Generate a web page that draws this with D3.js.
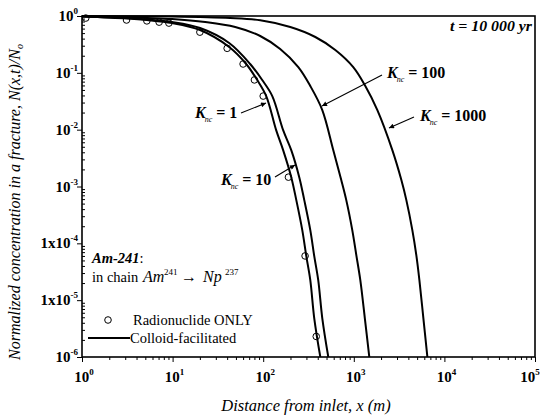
<!DOCTYPE html>
<html><head><meta charset="utf-8">
<script src="https://cdn.jsdelivr.net/npm/d3@7"></script>
<style>body{margin:0;background:#fff}svg{display:block}text{font-family:"Liberation Serif","DejaVu Serif",serif;fill:#000}</style>
</head><body><svg id="c" width="544" height="418"></svg>
<script>
// ---- data (x in m, y = N/No) ----
const radionuclideOnly = [[1.1,0.92],[3.1,0.85],[5.2,0.82],[7.1,0.78],[9.1,0.75],[20,0.52],[40,0.27],[60,0.143],[80,0.075],[100,0.039],[190,1.46e-3],[290,6e-5],[385,2.3e-6]];
const kncLabels = ["1","10","100","1000"];
const knc1 = [[1,0.98],[3.14,0.904],[5.23,0.85],[9.87,0.753],[20.1,0.567],[42.1,0.285],[64.9,0.143],[85.9,0.0747],[108,0.039],[139,9.8e-3],[166,4.37e-3],[204,1.46e-3],[232,5.76e-4],[270,1.71e-4],[299,5.96e-5],[331,2.25e-5],[366,4.8e-6],[427,1e-6]];
const knc10 = [[1,0.98],[3.14,0.922],[5.23,0.868],[9.87,0.784],[20.1,0.615],[42.1,0.335],[71.8,0.143],[97.5,0.0747],[126,0.039],[166,9.8e-3],[204,4.37e-3],[250,1.46e-3],[284,5.76e-4],[331,1.71e-4],[366,5.96e-5],[405,2.25e-5],[449,4.8e-6],[523,1e-6]];
const knc100 = [[1,0.99],[2.63,0.96],[9.87,0.885],[22.9,0.784],[49.1,0.64],[92.7,0.445],[154,0.262],[244,0.126],[331,0.0586],[449,0.0221],[593,4.37e-3],[727,1.3e-3],[826,5.76e-4],[962,1.71e-4],[1066,6.2e-5],[1180,2.25e-5],[1324,4.8e-6],[1483,1e-6]];
const knc1000 = [[1,1.0],[10,0.98],[43.2,0.922],[92.7,0.84],[199,0.64],[376,0.427],[625,0.252],[986,0.126],[1340,0.0586],[1820,0.0221],[2663,4.37e-3],[3350,1.3e-3],[3802,5.76e-4],[4427,1.71e-4],[4898,6.2e-5],[5297,2.25e-5],[5862,4.8e-6],[6490,1e-6]];
const xTickExp = [0,1,2,3,4,5];
const yTickLabels = [["10","0"],["10","-1"],["10","-2"],["10","-3"],["1x10","-4"],["1x10","-5"],["10","-6"]];
const yTickExp = [0,-1,-2,-3,-4,-5,-6];

const svg = d3.select("#c");
const L=82,R=535,T=16,B=357;
const x = d3.scaleLog().domain([1,1e5]).range([L,R]);
const y = d3.scaleLog().domain([1e-6,1]).range([B,T]);

const defs = svg.append("defs");
defs.append("clipPath").attr("id","clip").append("rect").attr("x",L).attr("y",T-1).attr("width",R-L).attr("height",B-T+1);
defs.append("marker").attr("id","ah").attr("viewBox","0 0 10 10").attr("refX",10).attr("refY",5)
  .attr("markerWidth",7).attr("markerHeight",5).attr("orient","auto").attr("markerUnits","userSpaceOnUse")
  .append("path").attr("d","M0,0L10,5L0,10z").attr("fill","#000");

const majX = xTickExp.map(e=>Math.pow(10,e));
const majY = yTickExp.map(e=>Math.pow(10,e));
const minX = x.ticks().filter(v=>!majX.some(m=>Math.abs(m-v)/m<1e-9));
const minY = y.ticks().filter(v=>!majY.some(m=>Math.abs(m-v)/m<1e-9));

// axes (ticks only; frame drawn separately)
svg.append("g").attr("transform",`translate(0,${B})`)
  .call(d3.axisBottom(x).tickValues(majX).tickSize(5).tickSizeOuter(0).tickFormat(""));
svg.append("g").attr("transform",`translate(0,${B})`)
  .call(d3.axisBottom(x).tickValues(minX).tickSize(3).tickSizeOuter(0).tickFormat(""));
svg.append("g").attr("transform",`translate(${L},0)`)
  .call(d3.axisLeft(y).tickValues(majY).tickSize(5).tickSizeOuter(0).tickFormat(""));
svg.append("g").attr("transform",`translate(${L},0)`)
  .call(d3.axisLeft(y).tickValues(minY).tickSize(-3).tickSizeOuter(0).tickFormat(""));
svg.selectAll(".domain").attr("stroke","none");
svg.selectAll(".tick line").attr("stroke","#000").attr("stroke-width",1);

svg.append("rect").attr("x",L).attr("y",T).attr("width",R-L).attr("height",B-T).attr("fill","none").attr("stroke","#000").attr("stroke-width",1.6);

// x tick labels
xTickExp.forEach(e=>{
  const t = svg.append("text").attr("x",Math.min(x(Math.pow(10,e))+2,530)).attr("y",382).attr("text-anchor","middle").attr("font-weight","bold").attr("font-size",15);
  t.append("tspan").text("10");
  t.append("tspan").attr("dy",-7).attr("font-size",9).text(String(e));
});
// y tick labels
yTickExp.forEach((e,i)=>{
  const t = svg.append("text").attr("x",78).attr("y",y(Math.pow(10,e))+5).attr("text-anchor","end").attr("font-weight","bold").attr("font-size",15);
  t.append("tspan").text(yTickLabels[i][0]);
  t.append("tspan").attr("dy",-7).attr("font-size",9).text(yTickLabels[i][1]);
});

// axis titles
svg.append("text").attr("x",306).attr("y",411).attr("text-anchor","middle").attr("font-style","italic").attr("font-size",16.5).text("Distance from inlet, x (m)");
const yt = svg.append("text").attr("transform","translate(20,202) rotate(-90)").attr("text-anchor","middle").attr("font-style","italic").attr("font-size",16);
yt.append("tspan").text("Normalized concentration in a fracture, N(x,t)/N");
yt.append("tspan").attr("dy",3).attr("font-size",10).text("o");

// curves
const line = d3.line().x(d=>x(d[0])).y(d=>y(d[1])).curve(d3.curveCatmullRom.alpha(0.5));
svg.append("g").attr("clip-path","url(#clip)").selectAll("path").data([knc1,knc10,knc100,knc1000]).join("path")
  .attr("d",line).attr("fill","none").attr("stroke","#000").attr("stroke-width",2);

// circles
svg.append("g").selectAll("circle").data(radionuclideOnly).join("circle")
  .attr("cx",d=>x(d[0])).attr("cy",d=>y(d[1])).attr("r",3.3).attr("fill","none").attr("stroke","#000").attr("stroke-width",1);

// K labels with arrows
function klabel(px,py,val){
  const t = svg.append("text").attr("x",px).attr("y",py).attr("font-size",16).attr("font-weight","bold");
  t.append("tspan").attr("font-style","italic").text("K");
  t.append("tspan").attr("font-style","italic").attr("font-size",8).attr("font-weight","normal").attr("dy",4).attr("dx",-1).text("nc");
  t.append("tspan").attr("dy",-4).text(" = "+val);
}
function arrow(x1,y1,x2,y2){
  svg.append("line").attr("x1",x1).attr("y1",y1).attr("x2",x2).attr("y2",y2).attr("stroke","#000").attr("stroke-width",1.1).attr("marker-end","url(#ah)");
}
klabel(195,118,kncLabels[0]); arrow(241,113,266,103);
klabel(221,185,kncLabels[1]); arrow(275,177,295,165);
klabel(387,78,kncLabels[2]); arrow(382,75,322,106);
klabel(420,121,kncLabels[3]); arrow(414,117,389,128);

// time label
svg.append("text").attr("x",532).attr("y",31).attr("text-anchor","end").attr("font-size",14).attr("font-weight","bold").attr("font-style","italic")
  .attr("textLength",82).attr("lengthAdjust","spacingAndGlyphs").text("t = 10 000 yr");

// nuclide text
svg.append("text").attr("x",92).attr("y",263).attr("font-size",14.5).attr("font-weight","bold").attr("font-style","italic").text("Am-241").append("tspan").attr("font-weight","normal").attr("font-style","normal").text(":");
const ch = svg.append("text").attr("y",282).attr("font-size",14.5);
ch.append("tspan").attr("x",92).text("in chain");
ch.append("tspan").attr("x",143).attr("font-style","italic").attr("font-size",16).text("Am");
ch.append("tspan").attr("x",164).attr("dy",-7).attr("font-size",9).text("241");
ch.append("tspan").attr("x",181).attr("dy",7).attr("font-size",16).text("\u2192");
ch.append("tspan").attr("x",203).attr("font-style","italic").attr("font-size",16).text("Np");
ch.append("tspan").attr("x",225).attr("dy",-7).attr("font-size",9).text("237");

// legend
svg.append("circle").attr("cx",108).attr("cy",320).attr("r",3.3).attr("fill","none").attr("stroke","#000").attr("stroke-width",1);
svg.append("text").attr("x",133).attr("y",325).attr("font-size",14.5).text("Radionuclide ONLY");
svg.append("line").attr("x1",88).attr("x2",130).attr("y1",338).attr("y2",338).attr("stroke","#000").attr("stroke-width",2);
svg.append("text").attr("x",130).attr("y",343).attr("font-size",14.5).text("Colloid-facilitated");
</script></body></html>
